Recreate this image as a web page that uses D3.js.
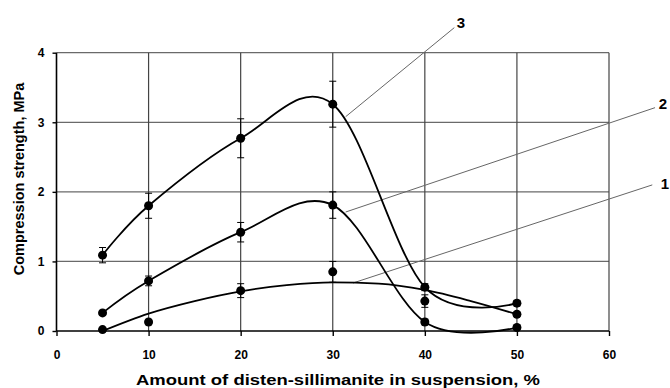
<!DOCTYPE html>
<html>
<head>
<meta charset="utf-8">
<script src="https://cdn.jsdelivr.net/npm/d3@7"></script>
<style>
  body { margin: 0; background: #fff; }
  text { font-family: "Liberation Sans", Arial, sans-serif; font-weight: bold; fill: #000; }
</style>
</head>
<body>
<script>
// data
let amount = [5, 10, 20, 30, 40, 50];

let strength1 = [0.02, 0.13, 0.58, 0.85, 0.43, 0.24];
let strength2 = [0.26, 0.72, 1.42, 1.81, 0.13, 0.05];
let strength3 = [1.09, 1.80, 2.77, 3.26, 0.63, 0.40];

let err1 = [0.02, 0.03, 0.10, 0.15, 0.09, 0.03];
let err2 = [0.03, 0.07, 0.14, 0.19, 0.04, 0.03];
let err3 = [0.11, 0.18, 0.28, 0.33, 0.05, 0.04];

// curve 1 is a trend line, not through the points
let trendX = [5, 10, 15, 20, 25, 30, 35, 40, 45, 50];
let trend1 = [0.00, 0.25, 0.43, 0.57, 0.66, 0.70, 0.68, 0.59, 0.43, 0.24];

let xTicks = [0, 10, 20, 30, 40, 50, 60];
let yTicks = [0, 1, 2, 3, 4];
let curveLabels = ["1", "2", "3"];

let width = 670,
    height = 388;

let x = d3.scaleLinear().domain([0, 60]).range([56.5, 609]);
let y = d3.scaleLinear().domain([0, 4]).range([331, 52.7]);

let svg = d3.select("body").append("svg")
    .attr("width", width)
    .attr("height", height);

svg.append("rect").attr("width", width).attr("height", height).attr("fill", "#fff");

// grid
svg.append("g").selectAll("line")
  .data(yTicks.filter(d => d > 0))
  .enter().append("line")
    .attr("x1", x(0)).attr("x2", x(60))
    .attr("y1", d => y(d)).attr("y2", d => y(d))
    .attr("stroke", "#6a6a6a").attr("stroke-width", 1.2);

svg.append("g").selectAll("line")
  .data(xTicks.filter(d => d > 0))
  .enter().append("line")
    .attr("x1", d => x(d)).attr("x2", d => x(d))
    .attr("y1", y(0)).attr("y2", y(4))
    .attr("stroke", "#444").attr("stroke-width", 1.2);

// axes
let xAxis = svg.append("g")
    .attr("transform", "translate(0," + y(0) + ")")
    .call(d3.axisBottom(x).tickValues(xTicks).tickFormat(d3.format("d")).tickSize(5).tickPadding(14));
let yAxis = svg.append("g")
    .attr("transform", "translate(" + x(0) + ",0)")
    .call(d3.axisLeft(y).tickValues(yTicks).tickFormat(d3.format("d")).tickSize(4).tickPadding(8));

[xAxis, yAxis].forEach(function(a) {
  a.select(".domain").attr("stroke", "#000").attr("stroke-width", 1.6);
  a.selectAll(".tick line").attr("stroke", "#000").attr("stroke-width", 1.4);
  a.selectAll(".tick text").style("font-size", "12px").style("font-weight", "bold")
    .attr("font-family", "Liberation Sans, Arial, sans-serif");
});
xAxis.select(".domain").attr("d", "M" + x(0) + ",0H" + x(60));
yAxis.select(".domain").attr("d", "M0," + y(0) + "V" + y(4));

svg.append("text")
    .attr("x", 338).attr("y", 385)
    .attr("text-anchor", "middle")
    .attr("textLength", 404)
    .attr("lengthAdjust", "spacingAndGlyphs")
    .style("font-size", "15px")
    .text("Amount of disten-sillimanite in suspension, %");

svg.append("text")
    .attr("transform", "translate(24,179)rotate(-90)")
    .attr("text-anchor", "middle")
    .style("font-size", "14.5px")
    .text("Compression strength, MPa");

// leader lines and curve numbers
let leaders = [
  { from: [32.2, 0.69], to: [64.7, 2.10], at: [665, 189] },
  { from: [31.4, 1.71], to: [65.0, 3.21], at: [663, 109] },
  { from: [31.4, 3.08], to: [43.2, 4.36], at: [461, 28] }
];
leaders.forEach(function(l, i) {
  svg.append("line")
      .attr("x1", x(l.from[0])).attr("y1", y(l.from[1]))
      .attr("x2", x(l.to[0])).attr("y2", y(l.to[1]))
      .attr("stroke", "#666").attr("stroke-width", 1);
  svg.append("text")
      .attr("x", l.at[0]).attr("y", l.at[1])
      .attr("text-anchor", "middle")
      .style("font-size", "15px")
      .text(curveLabels[i]);
});

// curves
let line = d3.line()
    .x(d => x(d[0]))
    .y(d => y(d[1]));

svg.append("path")
    .datum(trendX.map((d, i) => [d, trend1[i]]))
    .attr("d", line.curve(d3.curveMonotoneX))
    .attr("fill", "none").attr("stroke", "#000").attr("stroke-width", 1.8);

line.curve(d3.curveCardinal);
[strength2, strength3].forEach(function(s) {
  svg.append("path")
      .datum(amount.map((d, i) => [d, s[i]]))
      .attr("d", line)
      .attr("fill", "none").attr("stroke", "#000").attr("stroke-width", 1.8);
});

// error bars and points
let series = [[strength1, err1], [strength2, err2], [strength3, err3]];
series.forEach(function(s) {
  let vals = s[0], errs = s[1];
  let g = svg.append("g");
  amount.forEach(function(a, i) {
    let cx = x(a), lo = y(vals[i] - errs[i]), hi = y(vals[i] + errs[i]);
    g.append("line").attr("x1", cx).attr("x2", cx).attr("y1", lo).attr("y2", hi)
      .attr("stroke", "#000").attr("stroke-width", 1);
    [lo, hi].forEach(function(yy) {
      g.append("line").attr("x1", cx - 3.5).attr("x2", cx + 3.5).attr("y1", yy).attr("y2", yy)
        .attr("stroke", "#000").attr("stroke-width", 1);
    });
  });
  g.selectAll("circle")
    .data(vals)
    .enter().append("circle")
      .attr("cx", (d, i) => x(amount[i]))
      .attr("cy", d => y(d))
      .attr("r", 4.5)
      .attr("fill", "#000");
});
</script>
</body>
</html>
